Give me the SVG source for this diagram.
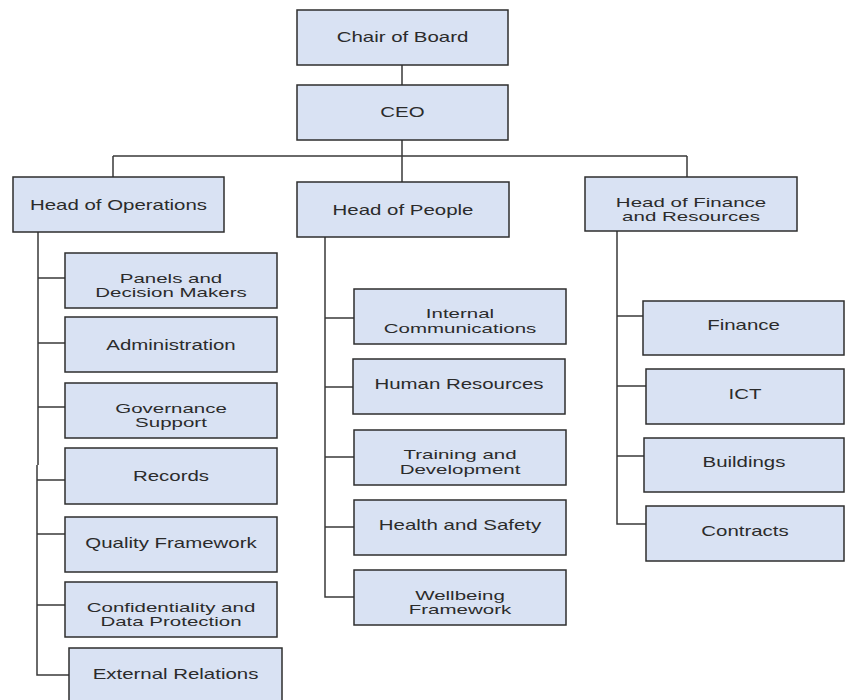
<svg xmlns="http://www.w3.org/2000/svg" width="845" height="700" viewBox="0 0 845 700">
<style>
.box{fill:#d9e2f3;stroke:#2e2e2e;stroke-width:1.5}
.t{font-family:"Liberation Sans",Arial,sans-serif;font-size:14px;fill:#2b2b2b;text-anchor:middle}
.t2{font-family:"Liberation Sans",Arial,sans-serif;font-size:12.5px;fill:#2b2b2b;text-anchor:middle}
.c{fill:none;stroke:#3a3a3a;stroke-width:1.5}
</style>
<rect width="845" height="700" fill="#ffffff"/>
<g id="connectors">
<path class="c" d="M402,65V85M402,140V156M113,156H687M113,156V177M402,156V182M687,156V177"/>
<path class="c" d="M38,232V465M37,465V675H69M38,278H65M38,343H65M38,407H65M37,480H65M37,534H65M37,605H65"/>
<path class="c" d="M325,237V597H354M325,318H354M325,387H353M325,457H354M325,527H354"/>
<path class="c" d="M617,231V524H646M617,316H643M617,386H646M617,456H644"/>
</g>
<g id="chair"><rect class="box" x="297" y="10" width="211" height="55"/><text class="t" transform="translate(402.5,42) scale(1.46,1)">Chair of Board</text></g>
<g id="ceo"><rect class="box" x="297" y="85" width="211" height="55"/><text class="t" transform="translate(402.5,117) scale(1.46,1)">CEO</text></g>
<g id="head-ops"><rect class="box" x="13" y="177" width="211" height="55"/><text class="t" transform="translate(118.5,209.5) scale(1.46,1)">Head of Operations</text></g>
<g id="head-people"><rect class="box" x="297" y="182" width="212" height="55"/><text class="t" transform="translate(403,214.5) scale(1.46,1)">Head of People</text></g>
<g id="head-finance"><rect class="box" x="585" y="177" width="212" height="54"/><text class="t2" transform="translate(691,206.5) scale(1.64,1)">Head of Finance</text><text class="t2" transform="translate(691,221) scale(1.64,1)">and Resources</text></g>
<g id="panels"><rect class="box" x="65" y="253" width="212" height="55"/><text class="t2" transform="translate(171,282.5) scale(1.64,1)">Panels and</text><text class="t2" transform="translate(171,297) scale(1.64,1)">Decision Makers</text></g>
<g id="administration"><rect class="box" x="65" y="317" width="212" height="55"/><text class="t" transform="translate(171,349.5) scale(1.46,1)">Administration</text></g>
<g id="governance"><rect class="box" x="65" y="383" width="212" height="55"/><text class="t2" transform="translate(171,412.5) scale(1.64,1)">Governance</text><text class="t2" transform="translate(171,427) scale(1.64,1)">Support</text></g>
<g id="records"><rect class="box" x="65" y="448" width="212" height="56"/><text class="t" transform="translate(171,481) scale(1.46,1)">Records</text></g>
<g id="quality"><rect class="box" x="65" y="517" width="212" height="55"/><text class="t" transform="translate(171,548) scale(1.46,1)">Quality Framework</text></g>
<g id="confidentiality"><rect class="box" x="65" y="582" width="212" height="55"/><text class="t2" transform="translate(171,611.5) scale(1.64,1)">Confidentiality and</text><text class="t2" transform="translate(171,626) scale(1.64,1)">Data Protection</text></g>
<g id="external"><rect class="box" x="69" y="648" width="213" height="55"/><text class="t" transform="translate(175.5,679) scale(1.46,1)">External Relations</text></g>
<g id="internal-comm"><rect class="box" x="354" y="289" width="212" height="55"/><text class="t2" transform="translate(460,318) scale(1.64,1)">Internal</text><text class="t2" transform="translate(460,332.5) scale(1.64,1)">Communications</text></g>
<g id="hr"><rect class="box" x="353" y="359" width="212" height="55"/><text class="t" transform="translate(459,389) scale(1.46,1)">Human Resources</text></g>
<g id="training"><rect class="box" x="354" y="430" width="212" height="55"/><text class="t2" transform="translate(460,459) scale(1.64,1)">Training and</text><text class="t2" transform="translate(460,473.5) scale(1.64,1)">Development</text></g>
<g id="health"><rect class="box" x="354" y="500" width="212" height="55"/><text class="t" transform="translate(460,530) scale(1.46,1)">Health and Safety</text></g>
<g id="wellbeing"><rect class="box" x="354" y="570" width="212" height="55"/><text class="t2" transform="translate(460,599.5) scale(1.64,1)">Wellbeing</text><text class="t2" transform="translate(460,614) scale(1.64,1)">Framework</text></g>
<g id="finance"><rect class="box" x="643" y="301" width="201" height="54"/><text class="t" transform="translate(743.5,330) scale(1.46,1)">Finance</text></g>
<g id="ict"><rect class="box" x="646" y="369" width="198" height="55"/><text class="t" transform="translate(745,399) scale(1.46,1)">ICT</text></g>
<g id="buildings"><rect class="box" x="644" y="438" width="200" height="54"/><text class="t" transform="translate(744,467) scale(1.46,1)">Buildings</text></g>
<g id="contracts"><rect class="box" x="646" y="506" width="198" height="55"/><text class="t" transform="translate(745,536) scale(1.46,1)">Contracts</text></g>
</svg>
